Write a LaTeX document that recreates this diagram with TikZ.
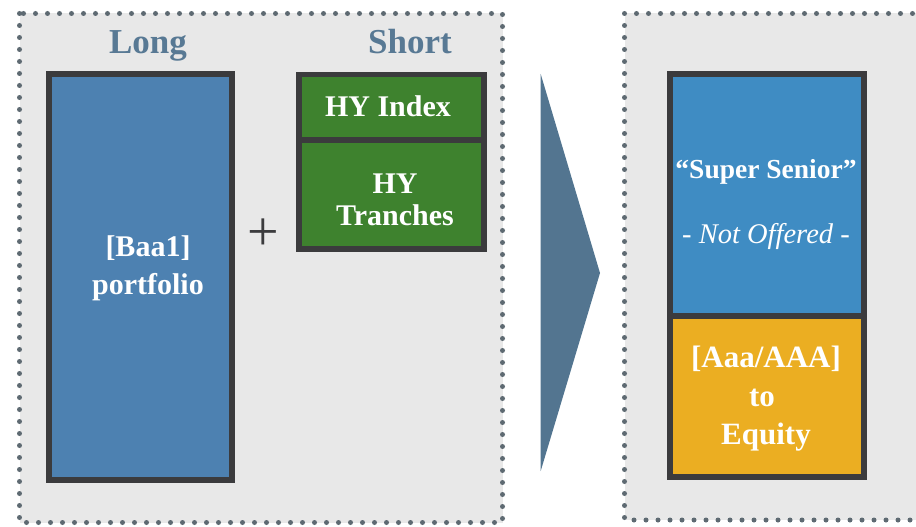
\documentclass[tikz,border=0pt]{standalone}
\usepackage{fontspec}
\setmainfont{Liberation Serif}
\definecolor{bgpanel}{RGB}{232,232,232}
\definecolor{dotcol}{RGB}{94,106,114}
\definecolor{frame}{RGB}{59,59,61}
\definecolor{longblue}{RGB}{77,129,177}
\definecolor{hygreen}{RGB}{62,130,46}
\definecolor{superblue}{RGB}{63,140,195}
\definecolor{gold}{RGB}{235,174,34}
\definecolor{labelcol}{RGB}{88,121,148}
\definecolor{chevron}{RGB}{83,117,144}
\tikzset{
  panel/.style={fill=bgpanel, draw=dotcol, line width=5pt, line cap=round, dash pattern=on 0pt off 12pt},
  blockbox/.style={draw=frame, line width=5.8pt},
  boxtext/.style={text=white, font=\fontsize{30}{38}\selectfont\bfseries, align=center, inner sep=0pt},
  headlabel/.style={text=labelcol, font=\fontsize{35}{40}\selectfont\bfseries, inner sep=0pt},
}
\begin{document}
\begin{tikzpicture}[x=1pt,y=-1pt]
\useasboundingbox (0,0) rectangle (916,527);
\clip (0,0) rectangle (916,527);
% panels
\path[panel] (19.5,13.5) rectangle (502.5,522.5);
\path[panel] (624.5,13.5) rectangle (940,520);
% headings
\node[headlabel, anchor=base] (long) at (148,54) {Long};
\node[headlabel, anchor=base] (short) at (410,54) {Short};
% long box
\draw[blockbox, fill=longblue] (48.8,73.8) rectangle (232.2,480.2);
\node[boxtext, anchor=base] (baa) at (148,256) {[Baa1]};
\node[boxtext, anchor=base] (port) at (148,294) {portfolio};
% plus
\node[text=frame, font=\fontsize{56}{56}\selectfont, inner sep=0pt] (plus) at (263,235) {+};
% short boxes
\draw[blockbox, fill=hygreen] (299,74.5) rectangle (484.3,140);
\draw[blockbox, fill=hygreen] (299,140) rectangle (484.3,248.8);
\node[boxtext, anchor=base] (hyi) at (388,117) {HY Index};
\node[boxtext, anchor=base] (hy) at (395,193) {HY};
\node[boxtext, anchor=base] (tr) at (395,225) {Tranches};
% chevron
\fill[chevron] (540.7,74) -- (600,273) -- (540.7,471) -- cycle;
% right box
\draw[blockbox, fill=superblue] (669.8,73.8) rectangle (864.2,316);
\draw[blockbox, fill=gold] (669.8,316) rectangle (864.2,477.2);
\node[boxtext, font=\fontsize{27.5}{30}\selectfont\bfseries, anchor=base] (ss) at (766,178) {“Super Senior”};
\node[boxtext, font=\fontsize{28.5}{30}\selectfont\itshape, anchor=base] (no) at (766,243) {- Not Offered -};
\node[boxtext, font=\fontsize{31}{40}\selectfont\bfseries, anchor=base] (aaa) at (766,367) {[Aaa/AAA]};
\node[boxtext, font=\fontsize{31}{40}\selectfont\bfseries, anchor=base] (to) at (762,406) {to};
\node[boxtext, font=\fontsize{31}{40}\selectfont\bfseries, anchor=base] (eq) at (766,444) {Equity};
\end{tikzpicture}
\end{document}
